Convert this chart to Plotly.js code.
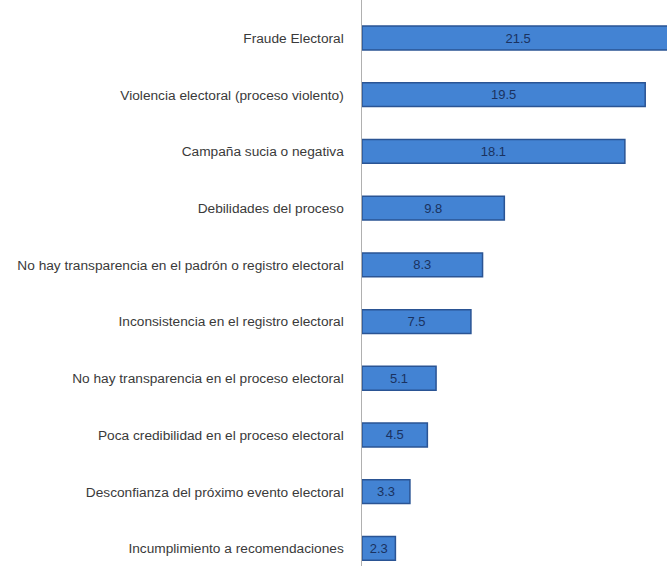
<!DOCTYPE html>
<html>
<head>
<meta charset="utf-8">
<script src="https://cdn.plot.ly/plotly-3.0.1.min.js"></script>
<style>html,body{margin:0;padding:0;background:#fff;}#chart{width:667px;height:566px;}</style>
</head>
<body>
<div id="chart"></div>
<script>
var categories = [
  "Fraude Electoral",
  "Violencia electoral (proceso violento)",
  "Campaña sucia o negativa",
  "Debilidades del proceso",
  "No hay transparencia en el padrón o registro electoral",
  "Inconsistencia en el registro electoral",
  "No hay transparencia en el proceso electoral",
  "Poca credibilidad en el proceso electoral",
  "Desconfianza del próximo evento electoral",
  "Incumplimiento a recomendaciones"
];
var values = [21.5, 19.5, 18.1, 9.8, 8.3, 7.5, 5.1, 4.5, 3.3, 2.3];
var valueLabels = values.map(function(v){ return v.toFixed(1); });

var trace = {
  type: 'bar',
  orientation: 'h',
  y: categories,
  x: values,
  text: valueLabels,
  textposition: 'inside',
  insidetextanchor: 'middle',
  textfont: {family: 'Liberation Sans, Arial, sans-serif', size: 13, color: '#1a3260'},
  width: 0.42,
  marker: {color: '#4383d3', line: {color: '#2a5494', width: 1.5}},
  hoverinfo: 'none'
};

var layout = {
  width: 667, height: 566,
  margin: {l: 362, r: 0, t: 0, b: 0},
  paper_bgcolor: '#ffffff', plot_bgcolor: '#ffffff',
  showlegend: false,
  font: {family: 'Liberation Sans, Arial, sans-serif', size: 12, color: '#404040'},
  xaxis: {range: [0, 21.0], showgrid: false, zeroline: false, showticklabels: false, showline: false, ticks: ''},
  yaxis: {
    type: 'category',
    range: [9.31, -0.67],
    autorange: false,
    showgrid: false, zeroline: false,
    showline: true, linecolor: '#b0b0b0', linewidth: 1.5,
    ticks: '', ticklabelstandoff: 14,
    tickfont: {family: 'Liberation Sans, Arial, sans-serif', size: 13.7, color: '#3a3a3a'}
  }
};

Plotly.newPlot('chart', [trace], layout, {displayModeBar: false, staticPlot: true});
</script>
</body>
</html>
